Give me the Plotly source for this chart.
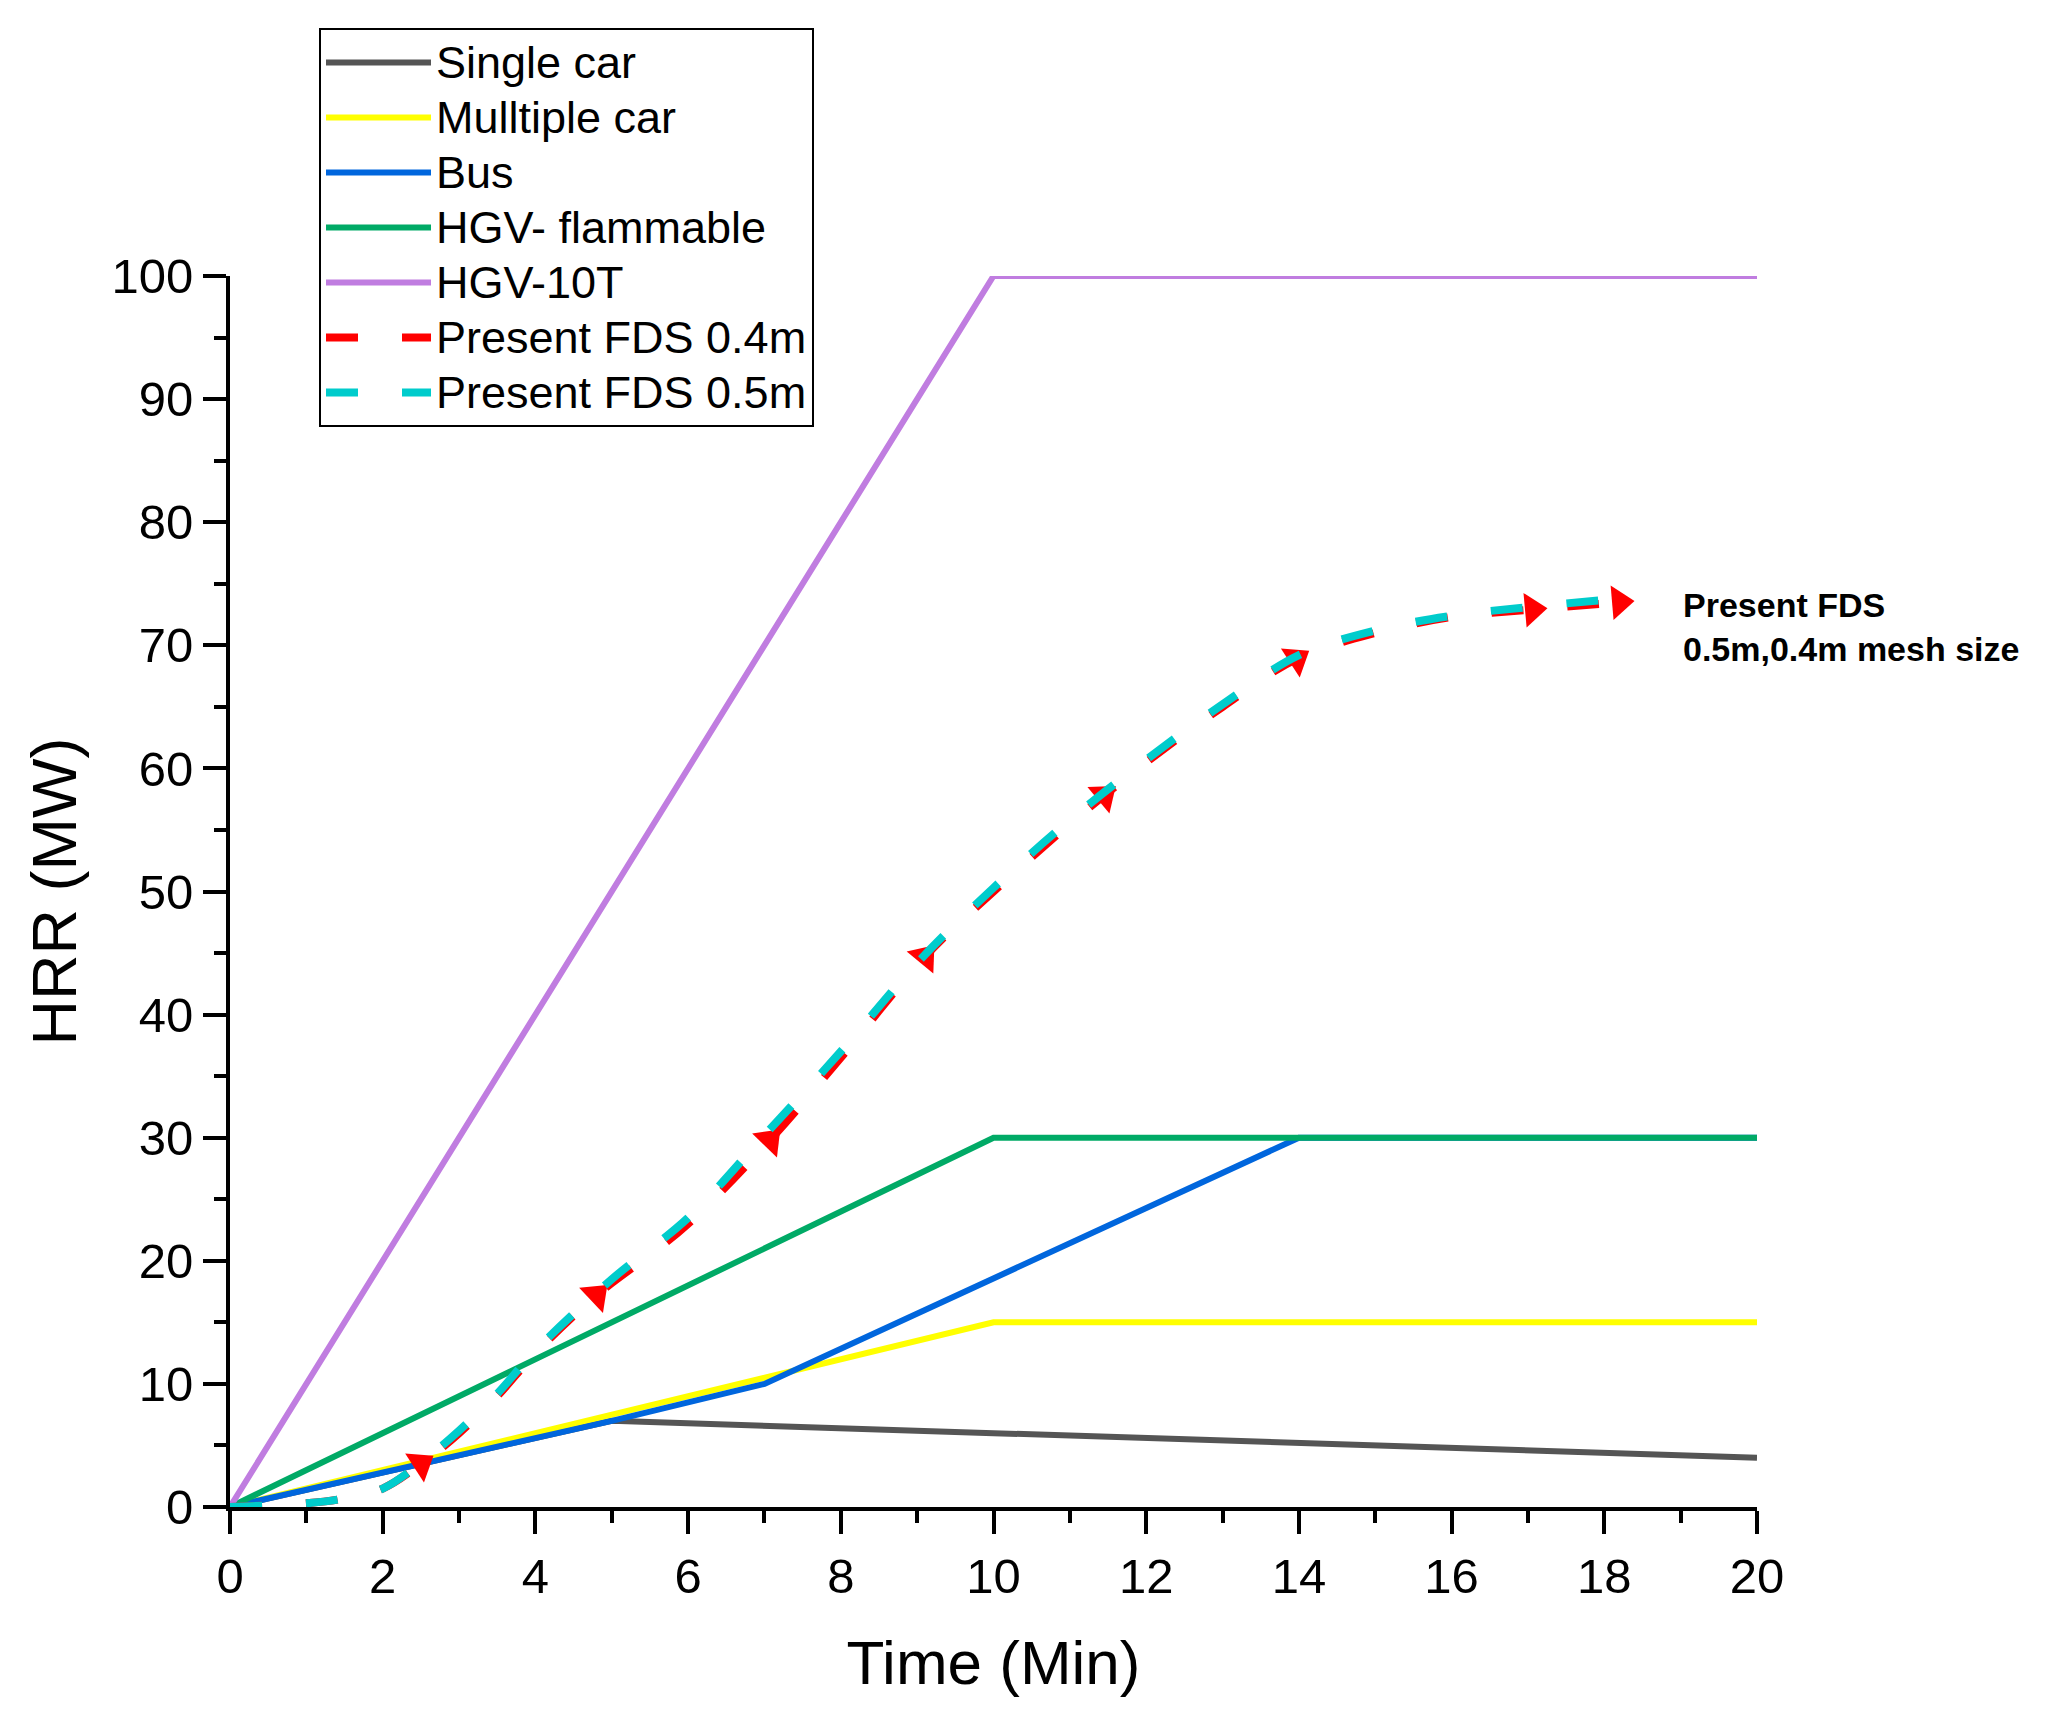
import plotly.graph_objects as go

# ---------------- data ----------------
single_t = [0, 5, 10, 20]
single_hrr = [0, 7, 6, 4]

multi_t = [0, 10, 20]
multi_hrr = [0, 15, 15]

bus_t = [0, 5, 7, 14, 20]
bus_hrr = [0, 7, 10, 30, 30]

hgv_flam_t = [0, 10, 20]
hgv_flam_hrr = [0, 30, 30]

hgv10_t = [0, 10, 20]
hgv10_hrr = [0, 100, 100]

fds04_t = [0, 1, 1.5, 2, 2.5, 3, 3.5, 4, 4.8, 5.5, 6, 7.07, 8, 9.1, 10, 11, 11.45, 12, 13, 13.97, 15, 16, 17.06, 18.2]
fds04_hrr = [0, 0.3, 0.7, 1.5, 3.5, 6, 9, 12.5, 17.2, 20.5, 23, 29.8, 36.5, 44.7, 50, 55.5, 57.8, 60.5, 65, 68.9, 71, 72.3, 72.9, 73.5]
fds04_arrow_t = [2.5, 4.8, 7.07, 9.1, 11.45, 13.97, 17.06, 18.2]

fds05_t = [0, 1, 1.5, 2, 2.5, 3, 3.5, 4, 5, 6, 7, 8, 9, 10, 11, 12, 13, 14, 15, 16, 17, 18.2]
fds05_hrr = [0, 0.3, 0.7, 1.5, 3.6, 6.2, 9.2, 12.7, 18.5, 23.5, 30.2, 37, 44.2, 50.3, 55.8, 60.7, 65.2, 69.2, 71.2, 72.4, 73.1, 73.8]

x_ticks = [0, 2, 4, 6, 8, 10, 12, 14, 16, 18, 20]
y_ticks = [0, 10, 20, 30, 40, 50, 60, 70, 80, 90, 100]

names = ["Single car", "Mulltiple car", "Bus", "HGV- flammable", "HGV-10T",
         "Present FDS 0.4m", "Present FDS 0.5m"]
annotation_text = "<b>Present FDS<br>0.5m,0.4m mesh size</b>"

# ---------------- styles ----------------
FONT = "Liberation Sans, Arial, sans-serif"
colors = ["#555555", "#FFFF00", "#0066DD", "#00AA66", "#C07DE0", "#FF0000", "#00CCCC"]
LW = 6
DASH = "32px,44px"
LEG_TEXT = '<span style="font-size:45px">{}</span>'

fig = go.Figure()
solid = [(single_t, single_hrr), (multi_t, multi_hrr), (bus_t, bus_hrr),
         (hgv_flam_t, hgv_flam_hrr), (hgv10_t, hgv10_hrr)]
for (t, h), n, c in zip(solid, names[:5], colors[:5]):
    fig.add_trace(go.Scatter(x=t, y=h, name=LEG_TEXT.format(n), mode="lines",
                             line=dict(color=c, width=LW)))

# red FDS 0.4m dashed line
fig.add_trace(go.Scatter(x=fds04_t, y=fds04_hrr, name=LEG_TEXT.format(names[5]),
                         mode="lines",
                         line=dict(color=colors[5], width=8, dash=DASH, shape="spline")))
# red arrow heads along the FDS 0.4m curve
arrow_sizes = [30 if t in fds04_arrow_t else 0 for t in fds04_t]
fig.add_trace(go.Scatter(x=fds04_t, y=fds04_hrr, mode="markers", showlegend=False,
                         hoverinfo="skip",
                         marker=dict(symbol="triangle-up", size=arrow_sizes, color=colors[5],
                                     opacity=1, angleref="previous", line=dict(width=0))))
fig.add_trace(go.Scatter(x=fds05_t, y=fds05_hrr, name=LEG_TEXT.format(names[6]), mode="lines",
                         line=dict(color=colors[6], width=8, dash=DASH, shape="spline")))

fig.add_annotation(x=19.0, y=71.5, xref="x", yref="y", text=annotation_text,
                   showarrow=False, xanchor="left", yanchor="middle", align="left",
                   font=dict(family=FONT, size=34, color="black"))

axis_common = dict(showline=True, linecolor="black", linewidth=4, ticks="outside",
                   ticklen=23, tickwidth=4, tickcolor="black", showgrid=False,
                   zeroline=False, tickfont=dict(family=FONT, size=49, color="black"))

fig.update_layout(
    width=2054, height=1722,
    margin=dict(l=230, r=297, t=276, b=215, pad=0),
    paper_bgcolor="white", plot_bgcolor="white",
    font=dict(family=FONT, color="black"),
    xaxis=dict(range=[0, 20], tickvals=x_ticks, ticktext=[str(v) for v in x_ticks],
               minor=dict(dtick=1, tick0=0, ticks="outside", ticklen=12, tickwidth=4,
                          tickcolor="black"),
               title=dict(text="Time (Min)", font=dict(family=FONT, size=62), standoff=40),
               **axis_common),
    yaxis=dict(range=[0, 100], tickvals=y_ticks, ticktext=[str(v) for v in y_ticks],
               minor=dict(dtick=5, tick0=0, ticks="outside", ticklen=12, tickwidth=4,
                          tickcolor="black"),
               title=dict(text="HRR (MW)", font=dict(family=FONT, size=63), standoff=15),
               **axis_common),
    legend=dict(x=(319 - 230) / 1527, y=(1507 - 28) / 1231, xanchor="left", yanchor="top",
                bordercolor="black", borderwidth=2, bgcolor="white",
                font=dict(family=FONT, size=40, color="black"),
                itemwidth=105, tracegroupgap=0),
    showlegend=True,
)

fig.write_html("out.html", config={"displayModeBar": False},
               post_script="document.body.style.margin='0';")
